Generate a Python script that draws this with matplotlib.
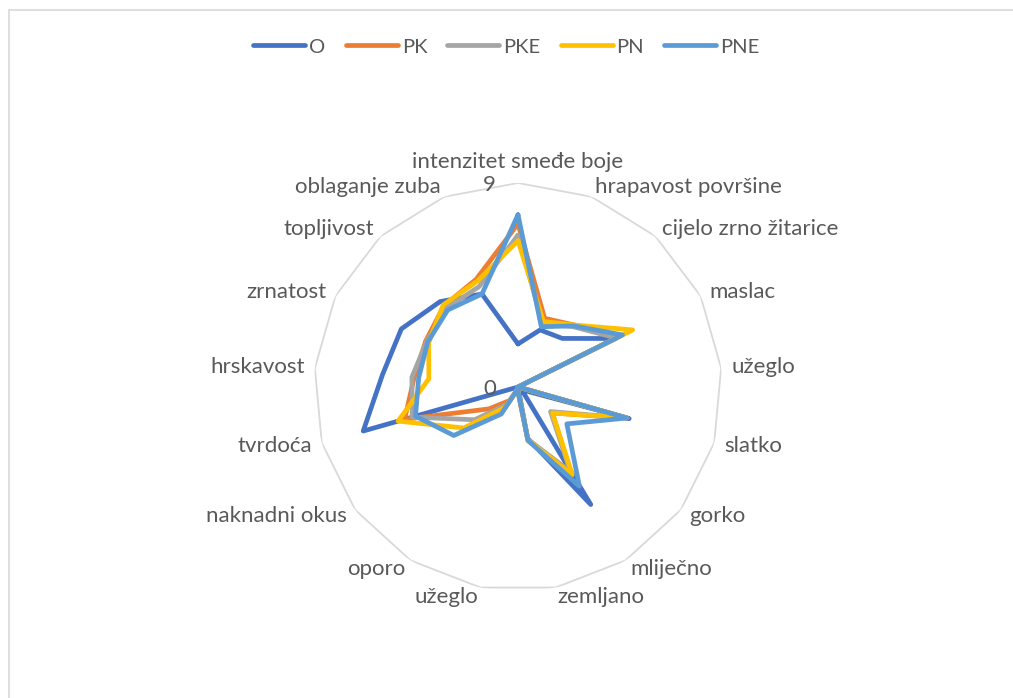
import numpy as np
import matplotlib
matplotlib.use("Agg")
import matplotlib.pyplot as plt
from matplotlib.patches import Rectangle

categories = ["intenzitet smeđe boje", "hrapavost površine", "cijelo zrno žitarice",
              "maslac", "užeglo", "slatko", "gorko", "mliječno", "zemljano",
              "užeglo", "oporo", "naknadni okus", "tvrdoća", "hrskavost",
              "zrnatost", "topljivost", "oblaganje zuba"]

O   = [1.9, 2.7, 2.9, 4.8, 0.0, 5.1, 0.2, 6.1, 2.3, 0.0, 0.0, 0.0, 7.1, 6.0, 5.75, 5.1, 4.4]
PK  = [7.2, 3.25, 3.7, 5.0, 0.0, 5.0, 1.9, 4.4, 2.4, 0.1, 0.7, 1.6, 5.2, 4.6, 4.55, 4.85, 5.1]
PKE = [6.7, 3.0, 3.6, 4.85, 0.0, 5.0, 1.8, 4.4, 2.35, 0.1, 0.9, 2.4, 4.85, 4.7, 4.5, 4.7, 4.75]
PN  = [6.45, 3.1, 3.7, 5.65, 0.0, 5.0, 1.9, 4.55, 2.4, 0.1, 1.05, 3.0, 5.5, 3.95, 4.4, 4.9, 5.0]
PNE = [7.6, 2.85, 3.65, 5.15, 0.0, 5.0, 2.7, 5.15, 2.4, 0.1, 1.4, 3.55, 4.7, 4.4, 4.45, 4.6, 4.4]

series = [("O", O, "#4472C4"), ("PK", PK, "#ED7D31"), ("PKE", PKE, "#A5A5A5"),
          ("PN", PN, "#FFC000"), ("PNE", PNE, "#5B9BD5")]

plt.rcParams["font.family"] = ["Lato", "DejaVu Sans"]
text_color = "#595959"
grid_color = "#D9D9D9"
fs = 16

W, H = 1013, 698
fig = plt.figure(figsize=(W / 100, H / 100), dpi=100)

# chart border (only top/left visible in the crop)
fig.patches.append(Rectangle((8.5 / W, -0.1), 1.2, 1 - 10.5 / H + 0.1,
                             transform=fig.transFigure, fill=False,
                             edgecolor=grid_color, linewidth=1.2))

cx, cy, R = 518, 387, 204
ax = fig.add_axes([(cx - R) / W, (H - cy - R) / H, 2 * R / W, 2 * R / H], projection="polar")
ax.set_theta_offset(np.pi / 2)
ax.set_theta_direction(-1)
ax.set_ylim(0, 9)
ax.grid(False)
ax.spines["polar"].set_visible(False)
ax.set_xticks([])
ax.set_yticks([])
ax.patch.set_alpha(0)

n = len(categories)
angles = np.linspace(0, 2 * np.pi, n, endpoint=False)
closed = np.append(angles, angles[0])

# outer polygon gridline at 9
ax.plot(closed, [9] * (n + 1), color=grid_color, linewidth=1.3, zorder=1)

for name, vals, col in series:
    ax.plot(closed, list(vals) + [vals[0]], color=col, linewidth=3.4, label=name,
            solid_joinstyle="round", solid_capstyle="round", zorder=3)

# category labels
lab_r = 9 * 214 / 204
for a, lab in zip(angles, categories):
    s = np.sin(a)
    if abs(s) < 0.01:
        ha, va, r = "center", "bottom", 9 * 215 / 204
    else:
        ha, va, r = ("left" if s > 0 else "right"), "center", lab_r
    ax.text(a, r, lab, ha=ha, va=va, fontsize=fs, color=text_color, clip_on=False)

# value axis labels
for v in (0, 9):
    ax.annotate(str(v), xy=(0, v), xytext=(-22, -2), textcoords="offset pixels",
                ha="right", va="center", fontsize=fs, color=text_color)

fig.legend(loc="center", bbox_to_anchor=(0.5, 1 - 47 / H), ncol=5, frameon=False,
           fontsize=14.5, handlelength=2.58, handletextpad=0.2, columnspacing=1.0,
           labelcolor=text_color)

fig.savefig("out.png", dpi=100)
